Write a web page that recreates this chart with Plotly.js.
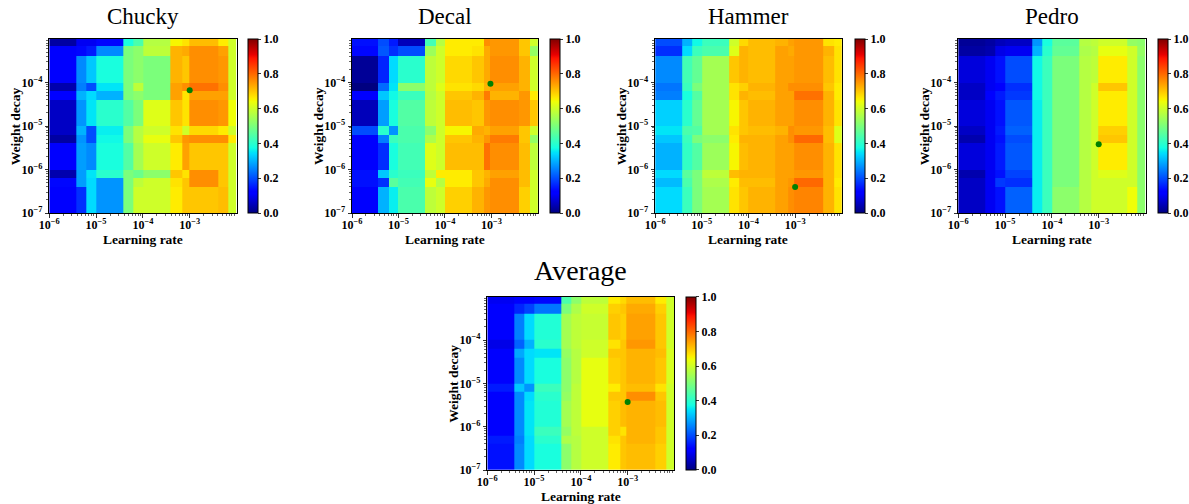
<!DOCTYPE html>
<html>
<head>
<meta charset="utf-8">
<script src="https://cdn.plot.ly/plotly-3.0.1.min.js"></script>
<style>
html,body{margin:0;padding:0;background:#fff;}
#chart{width:1189px;height:504px;}
</style>
</head>
<body>
<div id="chart"></div>
<script>
// ---------------- DATA ----------------
const panelNames = ["Chucky", "Decal", "Hammer", "Pedro", "Average"];
// cell edges as log10 exponents
const lrEdgeExp = [-6, -5.43, -5.2, -5, -4.42, -4.2, -4, -3.42, -3.16, -3.02, -2.4, -2.17, -2];
const wdEdgeExp = [-7, -6.4, -6.2, -6, -5.4, -5.2, -5, -4.4, -4.2, -4, -3.4, -3.17, -3];
const lrTickExp = [-6, -5, -4, -3];
const wdTickExp = [-7, -6, -5, -4];
const lrTickText = ["10<sup>−6</sup>", "10<sup>−5</sup>", "10<sup>−4</sup>", "10<sup>−3</sup>"];
const wdTickText = ["10<sup>−7</sup>", "10<sup>−6</sup>", "10<sup>−5</sup>", "10<sup>−4</sup>"];
const cbTickVals = [0, 0.2, 0.4, 0.6, 0.8, 1.0];

// rows listed top (high weight decay) to bottom (low weight decay)
const chuckyZ = [
  [0.03,0.10,0.10,0.13,0.38,0.44,0.57,0.65,0.67,0.71,0.66,0.60],
  [0.11,0.13,0.15,0.26,0.50,0.52,0.58,0.72,0.73,0.76,0.74,0.60],
  [0.11,0.26,0.32,0.38,0.50,0.52,0.50,0.72,0.70,0.76,0.75,0.60],
  [0.04,0.25,0.20,0.35,0.50,0.58,0.50,0.74,0.76,0.79,0.76,0.60],
  [0.11,0.30,0.34,0.30,0.50,0.52,0.50,0.74,0.67,0.74,0.74,0.60],
  [0.06,0.27,0.35,0.40,0.45,0.50,0.62,0.70,0.67,0.76,0.75,0.64],
  [0.06,0.30,0.20,0.36,0.50,0.57,0.60,0.67,0.60,0.68,0.66,0.60],
  [0.03,0.27,0.20,0.37,0.50,0.57,0.63,0.70,0.75,0.76,0.76,0.66],
  [0.11,0.28,0.26,0.38,0.45,0.55,0.60,0.66,0.74,0.70,0.70,0.60],
  [0.04,0.28,0.35,0.40,0.50,0.48,0.52,0.70,0.67,0.76,0.70,0.60],
  [0.13,0.28,0.34,0.27,0.50,0.58,0.60,0.67,0.70,0.76,0.70,0.60],
  [0.12,0.17,0.34,0.27,0.50,0.60,0.60,0.66,0.70,0.70,0.71,0.60]
];
const decalZ = [
  [0.14,0.20,0.15,0.05,0.43,0.57,0.66,0.66,0.76,0.75,0.70,0.60],
  [0.13,0.21,0.17,0.20,0.54,0.60,0.66,0.67,0.73,0.75,0.70,0.53],
  [0.02,0.16,0.34,0.40,0.58,0.60,0.68,0.70,0.73,0.76,0.72,0.60],
  [0.00,0.23,0.35,0.52,0.58,0.62,0.67,0.68,0.72,0.74,0.72,0.60],
  [0.11,0.32,0.37,0.42,0.57,0.60,0.70,0.72,0.78,0.72,0.75,0.66],
  [0.05,0.28,0.38,0.45,0.58,0.60,0.71,0.70,0.75,0.76,0.75,0.70],
  [0.20,0.40,0.27,0.44,0.52,0.60,0.65,0.73,0.72,0.74,0.70,0.60],
  [0.11,0.25,0.42,0.44,0.56,0.60,0.70,0.72,0.75,0.78,0.70,0.53],
  [0.11,0.17,0.38,0.43,0.62,0.60,0.71,0.71,0.79,0.76,0.71,0.58],
  [0.14,0.32,0.40,0.42,0.58,0.66,0.66,0.70,0.72,0.74,0.71,0.60],
  [0.14,0.17,0.46,0.43,0.63,0.57,0.66,0.70,0.73,0.76,0.71,0.60],
  [0.12,0.30,0.36,0.44,0.58,0.60,0.69,0.72,0.75,0.76,0.69,0.60]
];
const hammerZ = [
  [0.20,0.30,0.37,0.42,0.60,0.68,0.71,0.72,0.74,0.75,0.67,0.66],
  [0.17,0.34,0.42,0.44,0.62,0.72,0.71,0.74,0.73,0.75,0.72,0.67],
  [0.26,0.43,0.47,0.55,0.70,0.72,0.71,0.74,0.74,0.75,0.71,0.67],
  [0.24,0.42,0.50,0.55,0.67,0.69,0.72,0.74,0.76,0.76,0.70,0.66],
  [0.25,0.38,0.45,0.55,0.67,0.72,0.71,0.74,0.74,0.79,0.72,0.66],
  [0.33,0.40,0.47,0.55,0.65,0.70,0.72,0.74,0.74,0.76,0.72,0.67],
  [0.35,0.44,0.45,0.55,0.67,0.70,0.71,0.72,0.76,0.75,0.71,0.62],
  [0.32,0.42,0.50,0.52,0.66,0.72,0.72,0.74,0.76,0.80,0.71,0.62],
  [0.30,0.41,0.45,0.54,0.65,0.71,0.72,0.74,0.74,0.76,0.72,0.67],
  [0.34,0.46,0.50,0.58,0.71,0.72,0.72,0.74,0.74,0.75,0.72,0.67],
  [0.31,0.44,0.50,0.56,0.66,0.71,0.71,0.74,0.75,0.80,0.72,0.66],
  [0.34,0.42,0.50,0.55,0.67,0.70,0.72,0.74,0.76,0.77,0.72,0.67]
];
const pedroZ = [
  [0.02,0.03,0.05,0.06,0.27,0.38,0.46,0.57,0.58,0.60,0.53,0.52],
  [0.03,0.04,0.09,0.10,0.30,0.40,0.47,0.56,0.57,0.63,0.60,0.53],
  [0.08,0.10,0.14,0.20,0.37,0.42,0.50,0.57,0.58,0.66,0.60,0.52],
  [0.06,0.10,0.12,0.17,0.37,0.42,0.50,0.57,0.60,0.70,0.60,0.52],
  [0.06,0.11,0.15,0.18,0.37,0.42,0.50,0.57,0.60,0.66,0.60,0.52],
  [0.08,0.10,0.14,0.21,0.36,0.42,0.50,0.57,0.60,0.66,0.60,0.52],
  [0.06,0.10,0.15,0.22,0.36,0.42,0.50,0.57,0.60,0.69,0.60,0.52],
  [0.04,0.10,0.14,0.20,0.36,0.42,0.50,0.57,0.60,0.70,0.60,0.52],
  [0.08,0.10,0.15,0.21,0.36,0.42,0.50,0.57,0.60,0.66,0.60,0.52],
  [0.04,0.10,0.14,0.19,0.36,0.42,0.50,0.57,0.60,0.62,0.60,0.52],
  [0.06,0.10,0.18,0.17,0.36,0.42,0.50,0.57,0.60,0.60,0.60,0.52],
  [0.06,0.10,0.14,0.22,0.36,0.42,0.52,0.57,0.60,0.60,0.64,0.52]
];
const averageZ = [
  [0.10,0.11,0.12,0.13,0.44,0.52,0.58,0.66,0.68,0.71,0.66,0.60],
  [0.11,0.16,0.19,0.24,0.50,0.56,0.60,0.69,0.70,0.73,0.69,0.60],
  [0.11,0.25,0.34,0.39,0.55,0.58,0.59,0.70,0.69,0.74,0.70,0.60],
  [0.09,0.22,0.30,0.40,0.55,0.58,0.60,0.67,0.70,0.75,0.70,0.60],
  [0.11,0.29,0.34,0.35,0.53,0.57,0.60,0.70,0.70,0.72,0.71,0.61],
  [0.11,0.26,0.34,0.38,0.52,0.57,0.63,0.69,0.70,0.72,0.70,0.61],
  [0.15,0.32,0.27,0.42,0.52,0.58,0.63,0.66,0.70,0.71,0.67,0.60],
  [0.11,0.26,0.34,0.40,0.53,0.58,0.63,0.70,0.70,0.76,0.70,0.60],
  [0.12,0.26,0.35,0.39,0.55,0.58,0.63,0.69,0.71,0.72,0.71,0.60],
  [0.12,0.26,0.35,0.42,0.53,0.58,0.60,0.69,0.67,0.72,0.70,0.60],
  [0.15,0.25,0.34,0.40,0.56,0.57,0.60,0.67,0.70,0.72,0.70,0.60],
  [0.14,0.26,0.34,0.38,0.52,0.57,0.60,0.66,0.70,0.71,0.69,0.60]
];
// best configuration (log10 learning rate, log10 weight decay)
const bestLrExp = [-3.0, -3.02, -3.0, -3.0, -3.0];
const bestWdExp = [-4.18, -4.03, -6.4, -5.42, -5.43];

// ---------------- STYLE / LAYOUT ----------------
const W = 1189, H = 504;
// plot area pixel boxes [left, right, top, bottom] and colorbar left
const boxes = [
  {l: 49.3, r: 236.7, t: 39, b: 213, cb: 248.3},
  {l: 352.3, r: 538.3, t: 39, b: 213, cb: 550},
  {l: 655.7, r: 842.5, t: 39, b: 213, cb: 855},
  {l: 959, r: 1146.5, t: 39, b: 213, cb: 1158.3},
  {l: 487.7, r: 675, t: 296.7, b: 470, cb: 686}
];
const zSets = [chuckyZ, decalZ, hammerZ, pedroZ, averageZ];

// matplotlib "jet" colormap
function jetChannel(pts, v) {
  for (let i = 0; i < pts.length - 1; i++) {
    const a = pts[i], b = pts[i + 1];
    if (v >= a[0] && v <= b[0]) {
      return a[1] + (b[1] - a[1]) * (v - a[0]) / (b[0] - a[0]);
    }
  }
  return pts[pts.length - 1][1];
}
const jr = [[0,0],[0.35,0],[0.66,1],[0.89,1],[1,0.5]];
const jg = [[0,0],[0.125,0],[0.375,1],[0.64,1],[0.91,0],[1,0]];
const jb = [[0,0.5],[0.11,1],[0.34,1],[0.65,0],[1,0]];
const jetStops = [0,0.11,0.125,0.34,0.35,0.375,0.5,0.64,0.65,0.66,0.89,0.91,1];
const jetScale = jetStops.map(v => [v, 'rgb(' +
  Math.round(255 * jetChannel(jr, v)) + ',' +
  Math.round(255 * jetChannel(jg, v)) + ',' +
  Math.round(255 * jetChannel(jb, v)) + ')']);

function minorVals(lo, hi) {
  const out = [];
  for (let e = lo; e < hi; e++) {
    for (let k = 2; k <= 9; k++) out.push(e + Math.log10(k));
  }
  return out;
}

const serif = 'Liberation Serif, Times New Roman, serif';
const tickFont = {family: serif, size: 12, weight: 'bold', color: '#000'};
const cbFont = {family: serif, size: 12, weight: 'bold', color: '#000'};
const labelFont = {family: serif, size: 13.5, weight: 'bold', color: '#000'};

const data = [];
const layout = {
  width: W, height: H,
  margin: {l: 0, r: 0, t: 0, b: 0},
  paper_bgcolor: '#fff', plot_bgcolor: '#fff',
  showlegend: false,
  annotations: []
};

boxes.forEach((bx, i) => {
  const n = i === 0 ? '' : String(i + 1);
  const xa = 'xaxis' + n, ya = 'yaxis' + n;
  const xr = 'x' + n, yr = 'y' + n;
  const common = {
    ticks: 'outside', ticklen: 3.5, tickwidth: 0.8, tickcolor: '#000',
    showline: true, linecolor: '#000', linewidth: 1, mirror: true,
    zeroline: false, showgrid: false, tickmode: 'array',
    tickfont: tickFont, fixedrange: true
  };
  layout[xa] = Object.assign({}, common, {
    domain: [bx.l / W, bx.r / W], anchor: yr,
    range: [lrEdgeExp[0], lrEdgeExp[lrEdgeExp.length - 1]],
    tickvals: lrTickExp, ticktext: lrTickText, ticklabelstandoff: -3,
    minor: {tickmode: 'array', tickvals: minorVals(-6, -2), ticks: 'outside',
            ticklen: 2, tickwidth: 0.6, tickcolor: '#000', showgrid: false}
  });
  layout[ya] = Object.assign({}, common, {
    domain: [1 - bx.b / H, 1 - bx.t / H], anchor: xr,
    range: [wdEdgeExp[0], wdEdgeExp[wdEdgeExp.length - 1]],
    tickvals: wdTickExp, ticktext: wdTickText,
    minor: {tickmode: 'array', tickvals: minorVals(-7, -3), ticks: 'outside',
            ticklen: 2, tickwidth: 0.6, tickcolor: '#000', showgrid: false}
  });

  data.push({
    type: 'heatmap', xaxis: xr, yaxis: yr,
    x: lrEdgeExp, y: wdEdgeExp,
    z: zSets[i].slice().reverse(),
    zmin: 0, zmax: 1, colorscale: jetScale, zsmooth: false,
    hoverinfo: 'skip',
    colorbar: {
      xref: 'paper', yref: 'paper',
      x: bx.cb / W, xanchor: 'left', xpad: 0,
      y: 1 - (bx.t + bx.b) / 2 / H, yanchor: 'middle', ypad: 0,
      len: bx.b - bx.t, lenmode: 'pixels',
      thickness: 10, thicknessmode: 'pixels',
      outlinewidth: 1, outlinecolor: '#000',
      tickmode: 'array', tickvals: cbTickVals,
      tickformat: '.1f', ticks: 'outside', ticklen: 3, tickwidth: 0.8,
      tickcolor: '#000', tickfont: cbFont
    }
  });
  data.push({
    type: 'scatter', mode: 'markers', xaxis: xr, yaxis: yr,
    x: [bestLrExp[i]], y: [bestWdExp[i]],
    marker: {color: '#008000', size: 6},
    hoverinfo: 'skip', cliponaxis: true
  });

  const cx = (bx.l + bx.r) / 2 / W;
  const isAvg = i === 4;
  layout.annotations.push({
    text: panelNames[i], xref: 'paper', yref: 'paper',
    x: cx, y: 1 - (isAvg ? 270 : 17) / H, xanchor: 'center', yanchor: 'middle',
    showarrow: false,
    font: {family: serif, size: isAvg ? 28 : 23, color: '#000'}
  });
  layout.annotations.push({
    text: 'Learning rate', xref: 'paper', yref: 'paper',
    x: cx, y: 1 - (bx.b + 26.5) / H, xanchor: 'center', yanchor: 'middle',
    showarrow: false, font: labelFont
  });
  layout.annotations.push({
    text: 'Weight decay', xref: 'paper', yref: 'paper',
    x: (bx.l - 34) / W, y: 1 - (bx.t + bx.b) / 2 / H,
    xanchor: 'center', yanchor: 'middle', textangle: -90,
    showarrow: false, font: labelFont
  });
});

Plotly.newPlot('chart', data, layout, {staticPlot: true, displayModeBar: false});
</script>
</body>
</html>
